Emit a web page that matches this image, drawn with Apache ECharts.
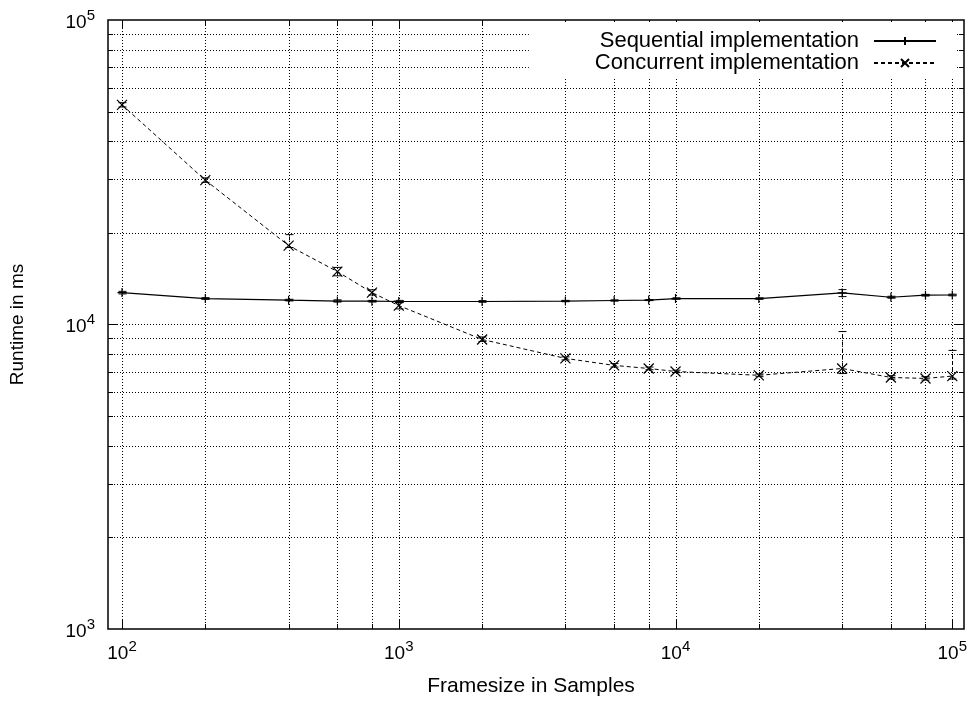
<!DOCTYPE html>
<html><head><meta charset="utf-8">
<script src="https://cdn.jsdelivr.net/npm/echarts@6/dist/echarts.min.js"></script>
<style>html,body{margin:0;padding:0;background:#fff}#c{width:971px;height:702px}</style>
</head><body><div id="c"></div>
<script>
// ---- data ----
const frameSizes = [100, 200, 400, 600, 800, 1000, 2000, 4000, 6000, 8000, 10000, 20000, 40000, 60000, 80000, 100000];
const seqValues  = [12730, 12170, 12015, 11940, 11925, 11900, 11900, 11940, 11990, 12030, 12170, 12170, 12700, 12290, 12480, 12500];
const seqLow     = [12600, 12100, 11950, 11850, 11850, 11800, 11830, 11880, 11930, 11980, 12100, 12100, 12350, 12200, 12400, 12420];
const seqHigh    = [12850, 12250, 12100, 12050, 12000, 12000, 11980, 12000, 12050, 12080, 12240, 12240, 13020, 12380, 12560, 12580];
const concValues = [52640, 29780, 18160, 14920, 12730, 11540, 8930, 7740, 7340, 7170, 7010, 6810, 7170, 6700, 6650, 6770];
const concLow    = [51800, 29300, 17900, 14450, 12500, 11250, 8800, 7650, 7250, 7100, 6950, 6740, 6900, 6620, 6570, 6620];
const concHigh   = [53500, 30300, 19730, 15400, 13000, 11800, 9100, 7830, 7440, 7250, 7080, 6880, 9480, 6790, 6740, 8220];
const xGridTicks = [100, 200, 400, 600, 800, 1000, 2000, 4000, 6000, 8000, 10000, 20000, 40000, 60000, 80000, 100000];
const yGridTicks = [2000, 3000, 4000, 5000, 6000, 7000, 8000, 9000, 10000, 20000, 30000, 40000, 50000, 60000, 70000, 80000, 90000];
const xRange = [89.0, 110230];
const yRange = [1000, 100000];
const seriesNames = ['Sequential implementation', 'Concurrent implementation'];
const xTitle = 'Framesize in Samples';
const yTitle = 'Runtime in ms';

// ---- chart ----
const FONT = '"Liberation Sans", Arial, Helvetica, sans-serif';
function isPow10(v) { const l = Math.log10(v); return Math.abs(l - Math.round(l)) < 1e-6; }
function powLabel(v) { if (!isPow10(v)) return ''; return '{b|10}{s|' + Math.round(Math.log10(v)) + '}'; }
const rich = {
  b: { fontSize: 19, fontFamily: FONT, color: '#000', verticalAlign: 'bottom', lineHeight: 24 },
  s: { fontSize: 15, fontFamily: FONT, color: '#000', verticalAlign: 'top', lineHeight: 24 }
};
const crisp = v => Math.round(v) + 0.5;

const chart = echarts.init(document.getElementById('c'), null, { renderer: 'canvas' });

function gridX(params, api) {
  const v = api.value(0);
  const p0 = api.coord([v, yRange[0]]), p1 = api.coord([v, yRange[1]]);
  const x = crisp(p0[0]);
  const len = isPow10(v) ? 9 : 5;
  return { type: 'group', children: [
    { type: 'line', shape: { x1: x, y1: p0[1], x2: x, y2: p1[1] }, style: { stroke: '#000', lineWidth: 1, lineDash: [1, 2] } },
    { type: 'line', shape: { x1: x, y1: p0[1], x2: x, y2: p0[1] - len }, style: { stroke: '#000', lineWidth: 1 } },
    { type: 'line', shape: { x1: x, y1: p1[1], x2: x, y2: p1[1] + len }, style: { stroke: '#000', lineWidth: 1 } }
  ]};
}
function gridY(params, api) {
  const v = api.value(1);
  const p0 = api.coord([xRange[0], v]), p1 = api.coord([xRange[1], v]);
  const y = crisp(p0[1]);
  const len = isPow10(v) ? 9 : 5;
  return { type: 'group', children: [
    { type: 'line', shape: { x1: p0[0], y1: y, x2: p1[0], y2: y }, style: { stroke: '#000', lineWidth: 1, lineDash: [1, 2] } },
    { type: 'line', shape: { x1: p0[0], y1: y, x2: p0[0] + len, y2: y }, style: { stroke: '#000', lineWidth: 1 } },
    { type: 'line', shape: { x1: p1[0], y1: y, x2: p1[0] - len, y2: y }, style: { stroke: '#000', lineWidth: 1 } }
  ]};
}
function errBar(dash) {
  return function (params, api) {
    const x = api.value(0);
    const a = api.coord([x, api.value(1)]), b = api.coord([x, api.value(2)]);
    const cx = crisp(a[0]);
    const st = { stroke: '#000', lineWidth: 1, lineDash: dash };
    return { type: 'group', children: [
      { type: 'line', shape: { x1: cx, y1: a[1], x2: cx, y2: b[1] }, style: st },
      { type: 'line', shape: { x1: cx - 4, y1: a[1], x2: cx + 4, y2: a[1] }, style: { stroke: '#000', lineWidth: 1 } },
      { type: 'line', shape: { x1: cx - 4, y1: b[1], x2: cx + 4, y2: b[1] }, style: { stroke: '#000', lineWidth: 1 } }
    ]};
  };
}

const option = {
  animation: false,
  backgroundColor: '#fff',
  grid: { left: 108, top: 20, right: 7, bottom: 72, show: true, borderColor: '#000', borderWidth: 1.5, backgroundColor: 'transparent' },
  legend: {
    data: seriesNames, orient: 'vertical', align: 'right', top: 22, right: 16,
    itemWidth: 62, itemHeight: 10, itemGap: 0, backgroundColor: '#fff', padding: [8, 18, 3, 66],
    textStyle: { fontFamily: FONT, fontSize: 22, lineHeight: 21, color: '#000', padding: [0, 10, 0, 0] }
  },
  xAxis: {
    type: 'log', logBase: 10, min: xRange[0], max: xRange[1],
    name: xTitle, nameLocation: 'middle', nameGap: 47,
    nameTextStyle: { fontFamily: FONT, fontSize: 21, color: '#000', padding: [0, 10, 0, 0] },
    axisLine: { show: false }, axisTick: { show: false }, splitLine: { show: false },
    axisLabel: { formatter: powLabel, rich: rich, margin: 10, showMinLabel: true, showMaxLabel: true }
  },
  yAxis: {
    type: 'log', logBase: 10, min: yRange[0], max: yRange[1],
    name: yTitle, nameLocation: 'middle', nameGap: 81, nameRotate: 90,
    nameTextStyle: { fontFamily: FONT, fontSize: 19, color: '#000' },
    axisLine: { show: false }, axisTick: { show: false }, splitLine: { show: false },
    axisLabel: { formatter: powLabel, rich: rich, margin: 13 }
  },
  series: [
    { type: 'custom', silent: true, z: 1, renderItem: gridX, data: xGridTicks.map(v => [v, yRange[0]]) },
    { type: 'custom', silent: true, z: 1, renderItem: gridY, data: yGridTicks.map(v => [xRange[0], v]) },
    { type: 'custom', silent: true, z: 3, renderItem: errBar(null), encode: { x: 0, y: [1, 2] },
      data: frameSizes.map((x, i) => [x, seqLow[i], seqHigh[i]]) },
    { type: 'custom', silent: true, z: 3, renderItem: errBar([4, 3]), encode: { x: 0, y: [1, 2] },
      data: frameSizes.map((x, i) => [x, concLow[i], concHigh[i]]) },
    {
      name: seriesNames[0], type: 'line', z: 4,
      data: frameSizes.map((x, i) => [x, seqValues[i]]),
      symbol: 'path://M0,5L10,5M5,0L5,10', symbolSize: 9,
      lineStyle: { color: '#000', width: 1.2, type: 'solid' },
      itemStyle: { color: '#000', borderColor: '#000', borderWidth: 1.2 }
    },
    {
      name: seriesNames[1], type: 'line', z: 4,
      data: frameSizes.map((x, i) => [x, concValues[i]]),
      symbol: 'path://M0,0L10,10M10,0L0,10', symbolSize: 10,
      lineStyle: { color: '#000', width: 1, type: [4, 3] },
      itemStyle: { color: '#000', borderColor: '#000', borderWidth: 1.2 }
    }
  ]
};
chart.setOption(option);
</script>
</body></html>
